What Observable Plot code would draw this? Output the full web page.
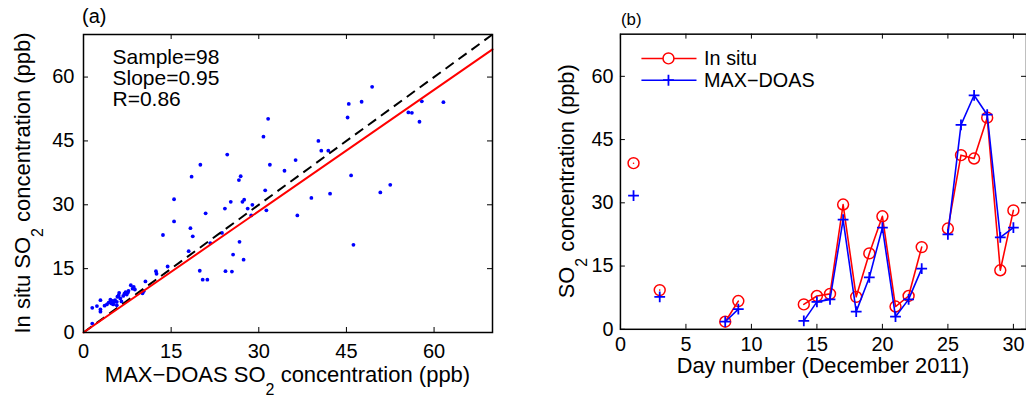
<!DOCTYPE html>
<html><head><meta charset="utf-8">
<script src="https://cdn.jsdelivr.net/npm/d3@7"></script>
<script src="https://cdn.jsdelivr.net/npm/@observablehq/plot@0.6"></script>
<style>
html,body{margin:0;padding:0;background:#fff;overflow:hidden;width:1026px;height:398px;}
#wrap{position:relative;width:1026px;height:398px;overflow:hidden;}
#a{position:absolute;left:0;top:0;}
#b{position:absolute;left:510px;top:0;}
svg text{font-family:"Liberation Sans",Arial,sans-serif;}
</style></head><body><div id="wrap"><div id="a"></div><div id="b"></div></div>
<script>
// ---------- Panel (a): scatter, MAX-DOAS vs in situ SO2 (ppb) ----------
const doasSO2 = [31.6,30.8,24.6,20.0,31.9,18.5,26.9,26.6,31.1,15.5,25.2,27.2,27.5,28.9,28.1,24.2,20.9,28.7,31.3,15.5,
  18.3,18.7,13.6,23.7,21.7,26.7,18.0,25.6,27.4,14.4,12.4,12.5,19.9,24.3,25.4,20.4,21.2,10.6,10.1,49.4,
  45.4,47.6,45.2,40.2,40.7,41.9,36.3,34.4,45.8,52.5,55.6,56.2,57.9,61.6,57.5,50.8,42.2,39.0,36.6,46.2,
  10.3,8.1,8.6,8.4,7.7,7.2,7.6,7.4,7.0,6.8,6.1,6.0,6.3,6.5,5.7,5.4,4.6,5.0,5.3,4.8,
  4.6,5.1,5.7,4.0,4.3,2.9,2.3,1.5,2.9,2.9,1.5,8.8,5.8,3.6];
const insituSO2 = [50.2,46.0,41.8,39.4,39.4,36.6,36.7,35.8,33.4,31.3,30.7,30.7,31.2,30.0,29.1,29.1,28.0,27.5,28.7,26.1,
  24.5,22.6,22.9,23.4,21.0,21.3,19.1,18.3,17.1,15.5,14.4,13.8,14.5,14.4,14.3,12.4,12.4,12.0,9.2,57.7,
  53.7,54.2,50.5,45.0,42.7,42.7,40.5,38.0,36.9,34.7,51.7,51.6,54.3,54.1,49.5,32.9,32.6,31.6,27.5,20.6,
  9.7,11.1,10.7,10.3,9.8,9.5,9.4,8.9,9.1,8.6,9.3,8.7,8.0,7.3,7.2,7.6,7.7,7.4,7.2,6.8,
  7.2,6.6,6.4,6.6,7.0,7.6,6.2,5.8,4.9,5.4,2.1,10.1,8.4,6.3];
const sampleN = 98, fitSlope = 0.95, corrR = 0.86;
const limitsA = [0, 70];
const ticksA = [0, 15, 30, 45, 60];

// ---------- Panel (b): daily SO2, December 2011 ----------
const days = [1,2,3,4,5,6,7,8,9,10,11,12,13,14,15,16,17,18,19,20,21,22,23,24,25,26,27,28,29,30];
const insituDaily = [39.4,null,9.3,null,null,null,null,1.8,6.7,null,null,null,null,5.9,7.9,8.4,29.6,7.7,18.0,26.8,
  5.4,7.9,19.5,null,23.9,41.3,40.5,50.2,14.0,28.2];
const doasDaily = [31.7,null,7.7,null,null,null,null,1.8,4.8,null,null,null,null,2.0,6.5,7.1,26.0,4.2,12.3,24.1,
  3.0,7.1,14.4,null,22.5,48.5,55.5,50.9,21.8,24.1];
const limitsBx = [0, 31];
const limitsBy = [0, 70];
const ticksBx = [0, 5, 10, 15, 20, 25, 30];
const ticksBy = [0, 15, 30, 45, 60];

const FONT = "Liberation Sans, Arial, sans-serif";
const TL = 5; // inward tick length

function inwardTicks(xt, yt, pw, ph) {
  const o = {stroke: "black", strokeWidth: 1};
  return [
    Plot.tickX(xt, {x: d => d, insetTop: ph - TL, ...o}),
    Plot.tickX(xt, {x: d => d, insetBottom: ph - TL, ...o}),
    Plot.tickY(yt, {y: d => d, insetRight: pw - TL, ...o}),
    Plot.tickY(yt, {y: d => d, insetLeft: pw - TL, ...o})
  ];
}

function addText(svg, {x, y, rotate = 0, size, parts, anchor = "middle"}) {
  const t = d3.select(svg).append("text")
    .attr("transform", `translate(${x},${y})` + (rotate ? ` rotate(${rotate})` : ""))
    .attr("text-anchor", anchor)
    .attr("font-family", FONT)
    .attr("font-size", size)
    .attr("fill", "black");
  let shift = 0;
  for (const p of parts) {
    const s = t.append("tspan").text(p.t);
    const want = p.sub ? 13 : 0;
    if (want !== shift) { s.attr("dy", want - shift); shift = want; }
    if (p.sub) s.attr("font-size", 16);
  }
  return t;
}

// ----- Panel (a)
{
  const W = 510, H = 398, mL = 83, mR = 18, mT = 34, mB = 66;
  const pw = W - mL - mR, ph = H - mT - mB;
  const pts = doasSO2.map((x, i) => ({x, y: insituSO2[i]}));
  const oneToOne = limitsA.map(v => ({x: v, y: v}));
  const fit = limitsA.map(v => ({x: v, y: fitSlope * v}));
  const svg = Plot.plot({
    width: W, height: H, marginLeft: mL, marginRight: mR, marginTop: mT, marginBottom: mB,
    style: {fontFamily: FONT, fontSize: "20px", color: "black", background: "white", overflow: "visible"},
    x: {domain: limitsA}, y: {domain: limitsA},
    marks: [
      Plot.dot(pts, {x: "x", y: "y", r: 1.9, fill: "#0000ff", stroke: "none"}),
      Plot.line(oneToOne, {x: "x", y: "y", stroke: "black", strokeWidth: 2, strokeDasharray: "10,6", strokeLinecap: "butt"}),
      Plot.line(fit, {x: "x", y: "y", stroke: "#ff0000", strokeWidth: 2}),
      Plot.text([`Sample=${sampleN}\nSlope=${fitSlope}\nR=${corrR}`], {
        text: d => d, frameAnchor: "top-left", textAnchor: "start", lineAnchor: "top",
        dx: 29, dy: 15, fontSize: 21, lineHeight: 1, fill: "black"}),
      ...inwardTicks(ticksA, ticksA, pw, ph),
      Plot.frame({stroke: "black", strokeWidth: 1.5}),
      Plot.axisX(ticksA, {anchor: "bottom", tickSize: 0, tickPadding: 11, label: null, fontSize: 20}),
      Plot.axisY(ticksA, {anchor: "left", tickSize: 0, tickPadding: 9, label: null, fontSize: 20})
    ]
  });
  document.getElementById("a").appendChild(svg);
  addText(svg, {x: 82, y: 23, size: 20, anchor: "start", parts: [{t: "(a)"}]});
  addText(svg, {x: mL + pw / 2, y: 382, size: 22, parts: [{t: "MAX\u2212DOAS SO"}, {t: "2", sub: true}, {t: " concentration (ppb)"}]});
  addText(svg, {x: 30, y: mT + ph / 2, rotate: -90, size: 22, parts: [{t: "In situ SO"}, {t: "2", sub: true}, {t: " concentration (ppb)"}]});
}

// ----- Panel (b)
{
  const W = 521, H = 398, mL = 111, mR = 0, mT = 34, mB = 66;
  const pw = W - mL - mR, ph = H - mT - mB;
  const rows = days.map((d, i) => ({day: d, insitu: insituDaily[i], doas: doasDaily[i]}));
  const svg = Plot.plot({
    width: W, height: H, marginLeft: mL, marginRight: mR, marginTop: mT, marginBottom: mB,
    style: {fontFamily: FONT, fontSize: "20px", color: "black", background: "white", overflow: "visible"},
    x: {domain: limitsBx}, y: {domain: limitsBy},
    marks: [
      Plot.line(rows, {x: "day", y: "insitu", stroke: "#ff0000", strokeWidth: 1.6}),
      Plot.dot(rows.filter(r => r.insitu != null), {x: "day", y: "insitu", r: 5.5, stroke: "#ff0000", strokeWidth: 1.5, fill: "none"}),
      Plot.line(rows, {x: "day", y: "doas", stroke: "#0000ff", strokeWidth: 1.6}),
      Plot.dot(rows.filter(r => r.doas != null), {x: "day", y: "doas", symbol: "plus", r: 3.6, stroke: "#0000ff", strokeWidth: 1.8}),
      ...inwardTicks(ticksBx, ticksBy, pw, ph),
      Plot.frame({stroke: "black", strokeWidth: 1.5}),
      Plot.axisX(ticksBx, {anchor: "bottom", tickSize: 0, tickPadding: 8, label: null, fontSize: 20}),
      Plot.axisY(ticksBy, {anchor: "left", tickSize: 0, tickPadding: 7, label: null, fontSize: 20})
    ]
  });
  document.getElementById("b").appendChild(svg);
  addText(svg, {x: 112, y: 25, size: 17, anchor: "start", parts: [{t: "(b)"}]});
  addText(svg, {x: mL + pw / 2, y: 377, size: 22, parts: [{t: "Day number (December 2011)"}]});
  addText(svg, {x: 65, y: mT + ph / 2, rotate: -90, size: 22, parts: [{t: "SO"}, {t: "2", sub: true}, {t: " concentration (ppb)"}]});
  // legend
  const g = d3.select(svg).append("g");
  const lx1 = 132.7, lx2 = 188.3, lc = 160, ltx = 196;
  const items = [{label: "In situ", color: "#ff0000", y: 59, sym: "circle"}, {label: "MAX\u2212DOAS", color: "#0000ff", y: 81, sym: "plus"}];
  for (const it of items) {
    g.append("line").attr("x1", lx1).attr("x2", lx2).attr("y1", it.y).attr("y2", it.y).attr("stroke", it.color).attr("stroke-width", 1.6);
    if (it.sym === "circle") g.append("circle").attr("cx", lc).attr("cy", it.y).attr("r", 5.5).attr("fill", "white").attr("stroke", it.color).attr("stroke-width", 1.5);
    else g.append("path").attr("d", `M${lc-5.5},${it.y}H${lc+5.5}M${lc},${it.y-5.5}V${it.y+5.5}`).attr("stroke", it.color).attr("stroke-width", 1.8);
    g.append("text").attr("x", ltx).attr("y", it.y).attr("dy", "0.35em").attr("text-anchor", "start")
      .attr("font-family", FONT).attr("font-size", 20).attr("fill", "black").text(it.label);
  }
}
</script></body></html>
